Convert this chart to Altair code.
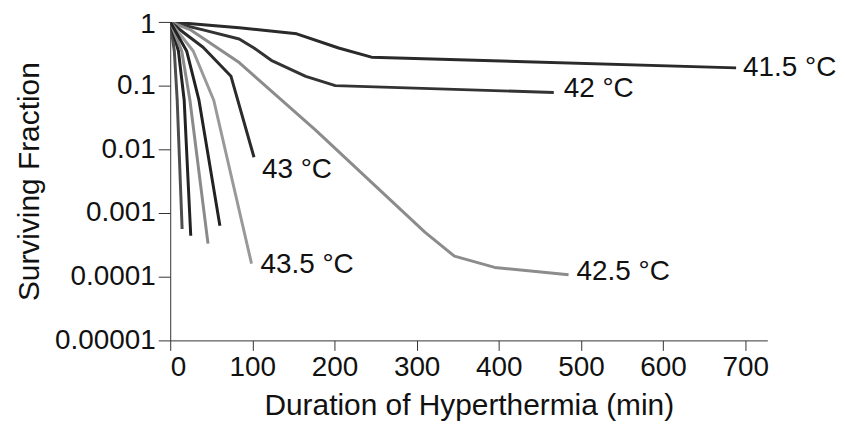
import altair as alt
import pandas as pd

# ---- data ----
t_415 = [0, 84, 154, 205, 245, 689]
s_415 = [1, 0.81, 0.65, 0.39, 0.28, 0.19]

t_42 = [0, 40, 84, 102, 123, 165, 201, 467]
s_42 = [1, 0.75, 0.54, 0.39, 0.25, 0.14, 0.10, 0.078]

t_425 = [0, 25, 84, 177, 310, 346, 395, 485]
s_425 = [1, 0.75, 0.23, 0.02, 0.0005, 0.00021, 0.00014, 0.000107]

t_43 = [0, 17, 40, 74, 102]
s_43 = [1, 0.67, 0.40, 0.14, 0.0075]

t_435 = [0, 28, 53, 99]
s_435 = [1, 0.35, 0.059, 0.00016]

t_a = [0, 5, 8.5, 14.5]
s_a = [1, 0.35, 0.059, 0.00056]

t_b = [0, 10, 17, 25]
s_b = [1, 0.35, 0.059, 0.00044]

t_c = [0, 14, 24, 46]
s_c = [1, 0.35, 0.059, 0.00033]

t_d = [0, 20, 35, 60.5]
s_d = [1, 0.35, 0.059, 0.00063]

series_names = ["41.5", "42", "42.5", "43", "43.5", "a", "b", "c", "d"]
series_t = [t_415, t_42, t_425, t_43, t_435, t_a, t_b, t_c, t_d]
series_s = [s_415, s_42, s_425, s_43, s_435, s_a, s_b, s_c, s_d]
series_colors = ["#2a2a2a", "#333333", "#8c8c8c", "#2b2b2b", "#999999",
                 "#4d4d4d", "#222222", "#8a8a8a", "#222222"]

labels = ["41.5", "42", "42.5", "43", "43.5"]
label_texts = ["41.5 \u00b0C", "42 \u00b0C", "42.5 \u00b0C", "43 \u00b0C", "43.5 \u00b0C"]

x_ticks = [0, 100, 200, 300, 400, 500, 600, 700]
y_ticks = [1, 0.1, 0.01, 0.001, 0.0001, 0.00001]

rows = []
for n, ts, ss in zip(series_names, series_t, series_s):
    for i, (t, s) in enumerate(zip(ts, ss)):
        rows.append({"series": n, "t": t, "s": s, "i": i})
df = pd.DataFrame(rows)

FONT = "Liberation Sans"

x_enc = alt.X("t:Q", scale=alt.Scale(domain=[0, 727], nice=False, zero=False),
              axis=alt.Axis(values=x_ticks, title="Duration of Hyperthermia (min)",
                            grid=False, tickSize=10, labelPadding=3,
                            labelFontSize=28, titleFontSize=30, titlePadding=9,
                            labelFont=FONT, titleFont=FONT, titleFontWeight="normal",
                            labelColor="#111", titleColor="#111",
                            domainColor="#333", tickColor="#333"))
y_enc = alt.Y("s:Q", scale=alt.Scale(type="log", domain=[0.00001, 1], nice=False),
              axis=alt.Axis(values=y_ticks, format=".5~f", title="Surviving Fraction",
                            grid=False, tickSize=12, labelPadding=3,
                            labelOffset={"condition": {"test": "datum.value >= 1", "value": 3},
                                         "value": 0},
                            labelFontSize=28, titleFontSize=30, titlePadding=10,
                            labelFont=FONT, titleFont=FONT, titleFontWeight="normal",
                            labelColor="#111", titleColor="#111",
                            domainColor="#333", tickColor="#333"))

lines = alt.Chart(df).mark_line(strokeWidth=3, strokeJoin="round", clip=True).encode(
    x=x_enc, y=y_enc,
    color=alt.Color("series:N", scale=alt.Scale(domain=series_names, range=series_colors),
                    legend=None),
    order="i:Q",
    detail="series:N",
)

label_offsets = {"41.5": (7, 0), "42": (10, -3), "42.5": (8, -3), "43": (8, 13), "43.5": (9, 1)}
layers = [lines]
for n, txt in zip(labels, label_texts):
    idx = series_names.index(n)
    ldf = pd.DataFrame({"t": [series_t[idx][-1]], "s": [series_s[idx][-1]], "label": [txt]})
    dx, dy = label_offsets[n]
    layers.append(alt.Chart(ldf).mark_text(align="left", baseline="middle", dx=dx, dy=dy,
                                           fontSize=28, font=FONT, color="#111").encode(
        x="t:Q", y="s:Q", text="label:N"))

chart = alt.layer(*layers).properties(
    width=600, height=320,
    autosize=alt.AutoSizeParams(type="none"),
    padding={"left": 163, "top": 13, "right": 70, "bottom": 84},
).configure_view(stroke=None)

chart.save("out.html", embed_options={"renderer": "svg", "actions": False})
